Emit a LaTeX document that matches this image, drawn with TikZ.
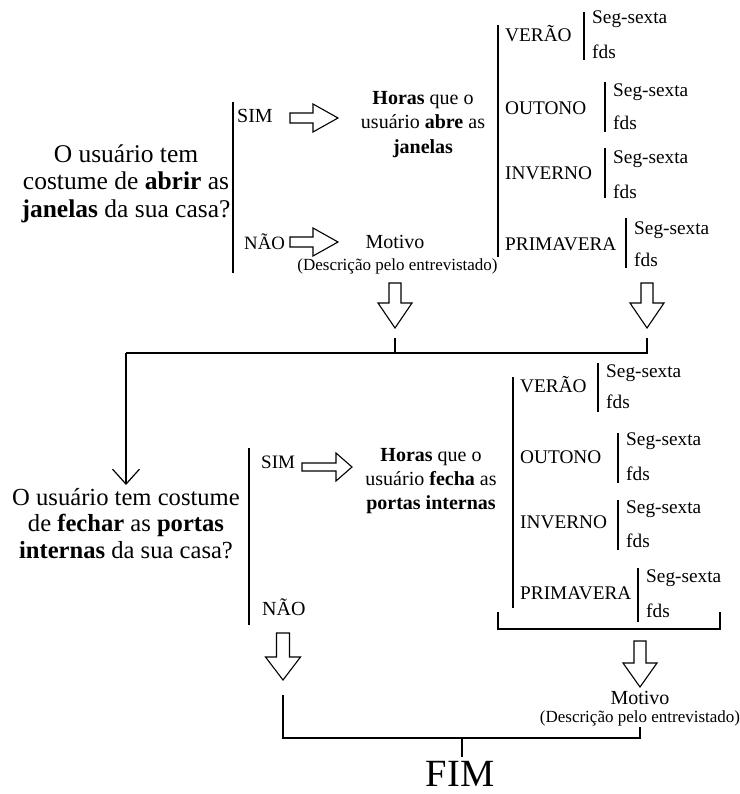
\documentclass[tikz,border=0pt]{standalone}
\usepackage{fontspec}
\setmainfont{Liberation Serif}
\usetikzlibrary{arrows.meta}
\tikzset{
  bar/.style={line width=1.8pt},
  conn/.style={line width=1.2pt},
  blk/.style={draw, line width=1.1pt, fill=white, line join=miter},
  bigtxt/.style={font=\fontsize{25.5}{27.5}\selectfont, align=center, inner sep=0pt},
  bigtxtb/.style={font=\fontsize{24.6}{26.5}\selectfont, align=center, inner sep=0pt},
  midtxt/.style={font=\fontsize{20}{24}\selectfont, inner sep=0pt},
  hortxt/.style={font=\fontsize{20}{24.5}\selectfont, align=center, inner sep=0pt},
  hortxtb/.style={font=\fontsize{20}{24}\selectfont, align=center, inner sep=0pt},
  smltxt/.style={font=\fontsize{19.3}{23}\selectfont, inner sep=0pt},
  desctxt/.style={font=\fontsize{17}{20}\selectfont, inner sep=0pt},
  fimtxt/.style={font=\fontsize{38.5}{42}\selectfont, inner sep=0pt},
}
% block arrow pointing right: x1, y, xtip, xhead, shaft half, head half
\newcommand{\blockR}[6]{\draw[blk] (#1,#2-#5) -- (#4,#2-#5) -- (#4,#2-#6) -- (#3,#2) -- (#4,#2+#6) -- (#4,#2+#5) -- (#1,#2+#5) -- cycle;}
% block arrow pointing down: ytop, x, ytip, yhead, shaft half, head half
\newcommand{\blockD}[6]{\draw[blk] (#2-#5,#1) -- (#2-#5,#4) -- (#2-#6,#4) -- (#2,#3) -- (#2+#6,#4) -- (#2+#5,#4) -- (#2+#5,#1) -- cycle;}
% season: name, label, x, baseline, barx, bartop, barbot, seg baseline, fds baseline
\newcommand{\season}[9]{%
  \node[smltxt, anchor=base west] (#1) at (#3,#4) {#2};
  \draw[bar] (#5,#6) -- (#5,#7);
  \node[smltxt, anchor=base west] (#1s) at (#5+8,#8) {Seg-sexta};
  \node[smltxt, anchor=base west] (#1f) at (#5+8,#9) {fds};
}
\begin{document}
\begin{tikzpicture}[x=1pt, y=-1pt]
\useasboundingbox[fill=white] (0,0) rectangle (739,794);

% ---------- first question ----------
\node[bigtxt] (q1) at (126,184.5) {\strut O usuário tem\\ \strut costume de \textbf{abrir} as\\ \strut\textbf{janelas} da sua casa?};
\draw[bar] (233,102) -- (233,273);
\node[midtxt, anchor=base west] (sim1) at (237,123) {SIM};
\node[midtxt, font=\fontsize{18.8}{22}\selectfont, anchor=base west] (nao1) at (244,249) {NÃO};
\blockR{290}{118}{338}{313}{5}{14}
\blockR{290}{242}{338}{313}{5}{14}
\node[hortxt] (h1) at (423,124) {\strut\textbf{Horas} que o\\ \strut usuário \textbf{abre} as\\ \strut\textbf{janelas}};
\node[midtxt, anchor=base] (m1) at (395,248) {Motivo};
\node[desctxt, anchor=base] (d1) at (397.5,270) {(Descrição pelo entrevistado)};

\draw[bar] (498,25) -- (498,257);
\season{v1}{VERÃO}{505}{41.5}{584}{12}{60}{24}{59}
\season{o1}{OUTONO}{505}{114.5}{605}{82}{132}{97}{130}
\season{i1}{INVERNO}{505}{179.5}{605}{148}{198}{164}{198.5}
\season{p1}{PRIMAVERA}{505}{251}{626}{218}{268}{234}{266.5}

% ---------- join to second question ----------
\blockD{283}{395}{328}{303}{6}{17}
\blockD{283}{647}{328}{303}{6}{17}
\coordinate (t1) at (395,338);
\coordinate (t2) at (647,338);
\coordinate (j1) at (395,353);
\coordinate (j2) at (647,353);
\coordinate (j0) at (126,353);
\coordinate (a2) at (126,485);
\draw[conn] (t1) -- (j1);
\draw[conn] (t2) -- (j2) -- (j0);
\draw[conn, -{Straight Barb[length=15pt, width=27pt, line width=1.2pt]}] (j0) -- (a2);

% ---------- second question ----------
\node[bigtxtb] (q2) at (126,526.2) {\strut O usuário tem costume\\ \strut de \textbf{fechar} as \textbf{portas}\\ \strut\textbf{internas} da sua casa?};
\draw[bar] (249,448) -- (249,625);
\node[midtxt, font=\fontsize{19}{22}\selectfont, anchor=base west] (sim2) at (261,468) {SIM};
\node[midtxt, anchor=base west] (nao2) at (262,615) {NÃO};
\blockR{302}{467}{352}{336}{4}{14}
\node[hortxtb] (h2) at (431,480.5) {\strut\textbf{Horas} que o\\ \strut usuário \textbf{fecha} as\\ \strut\textbf{portas internas}};

\draw[bar] (513,377) -- (513,608);
\season{v2}{VERÃO}{520}{392.5}{598}{363}{412}{377}{408}
\season{o2}{OUTONO}{520}{463.5}{618}{433}{483}{445}{480}
\season{i2}{INVERNO}{520}{528.5}{618}{500}{550}{513}{547}
\season{p2}{PRIMAVERA}{520}{599.5}{638}{568}{622}{582}{617}

\coordinate (b1) at (498,612);
\coordinate (b2) at (498,629);
\coordinate (b3) at (720,629);
\coordinate (b4) at (720,612);
\draw[conn] (b1) -- (b2) -- (b3) -- (b4);

\blockD{641}{640}{687}{663}{6}{17}
\node[midtxt, anchor=base] (m2) at (640,704) {Motivo};
\node[desctxt, anchor=base] (d2) at (640,722) {(Descrição pelo entrevistado)};

\blockD{633}{283}{680}{657}{6.5}{17.5}

% ---------- end ----------
\node[fimtxt, anchor=base] (fim) at (460,786) {FIM};
\coordinate (e1) at (283,695);
\coordinate (e2) at (283,738);
\coordinate (e3) at (640,738);
\coordinate (e4) at (640,727);
\coordinate (f1) at (462,738);
\coordinate (f2) at (462,757);
\draw[conn] (e1) -- (e2) -- (e3) -- (e4);
\draw[conn] (f1) -- (f2);
\end{tikzpicture}
\end{document}
